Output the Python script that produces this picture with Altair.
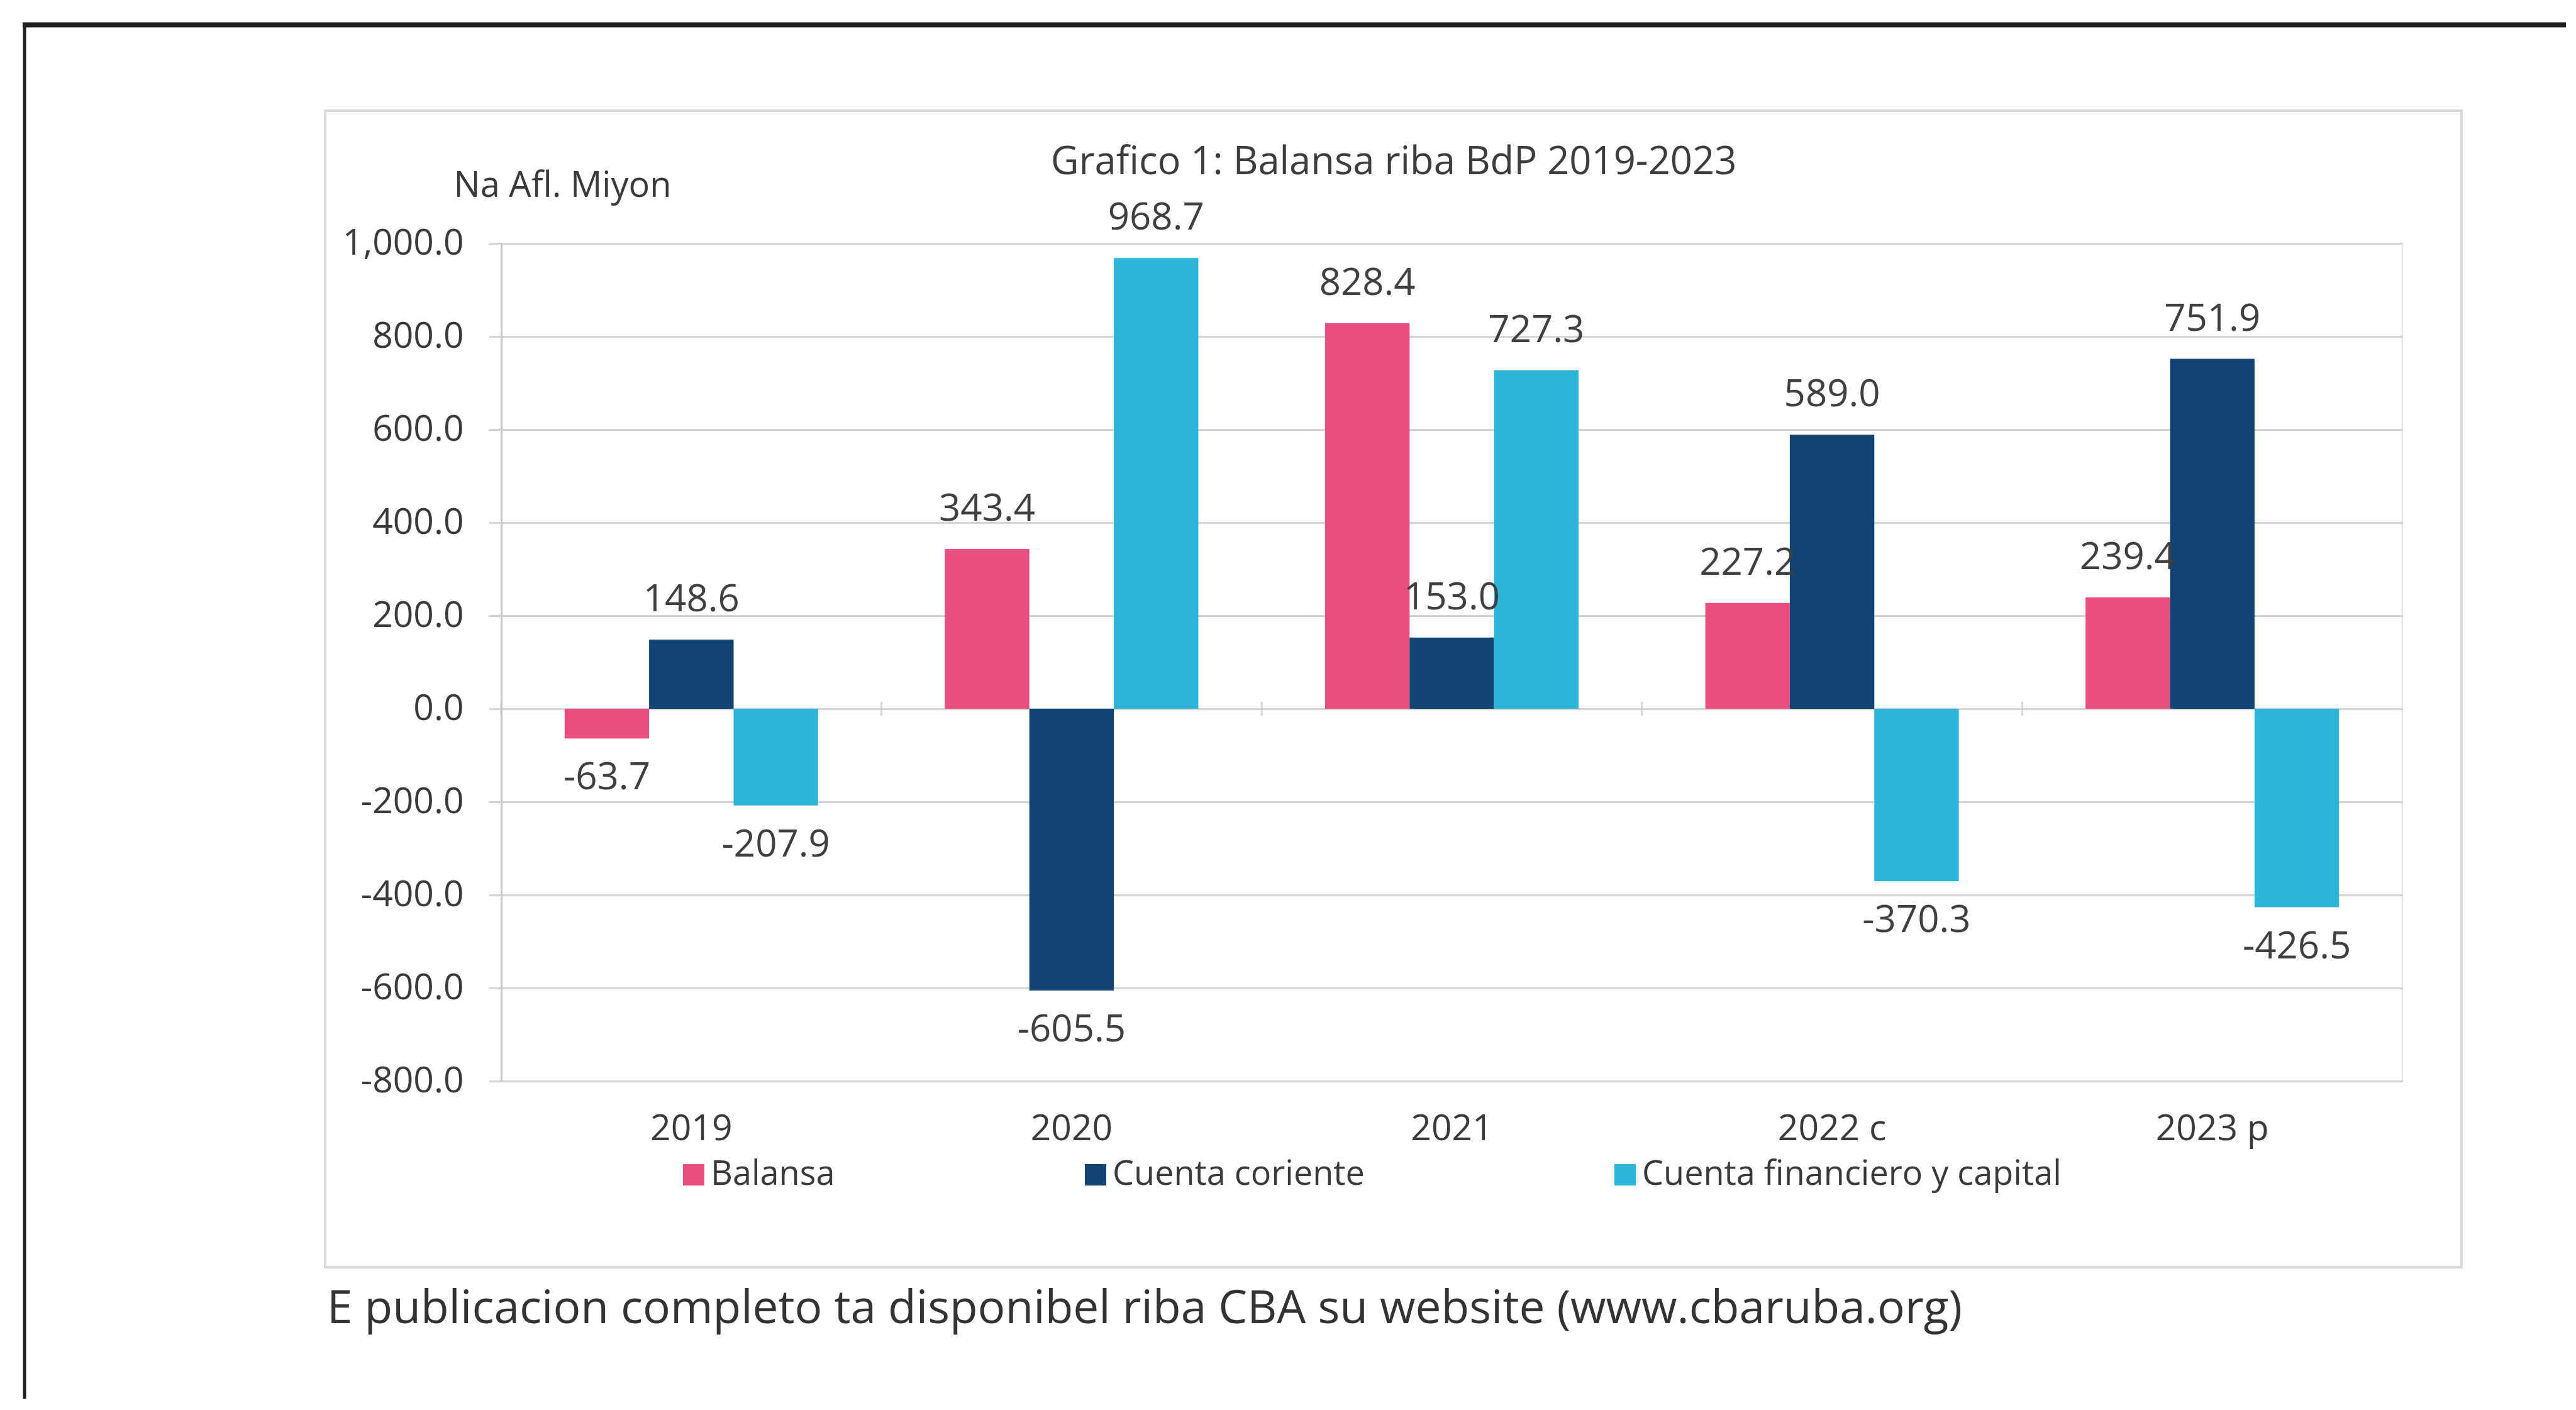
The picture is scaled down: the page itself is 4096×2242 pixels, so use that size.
import altair as alt
import pandas as pd

# ---- data ----
years = ["2019", "2020", "2021", "2022 c", "2023 p"]
series = ["Balansa", "Cuenta coriente", "Cuenta financiero y capital"]
balansa = [-63.7, 343.4, 828.4, 227.2, 239.4]
cuenta_coriente = [148.6, -605.5, 153.0, 589.0, 751.9]
cuenta_fin_cap = [-207.9, 968.7, 727.3, -370.3, -426.5]
y_ticks = [-800, -600, -400, -200, 0, 200, 400, 600, 800, 1000]
colors = ["#EA4F80", "#114373", "#2DB5D7"]

title_text = "Grafico 1: Balansa riba BdP 2019-2023"
unit_text = "Na Afl. Miyon"
footer_text = "E publicacion completo ta disponibel riba CBA su website (www.cbaruba.org)"

rows = []
for s, vals in zip(series, [balansa, cuenta_coriente, cuenta_fin_cap]):
    for yr, v in zip(years, vals):
        rows.append({"year": yr, "series": s, "value": v, "label": f"{v:,.1f}"})
df = pd.DataFrame(rows)
one = pd.DataFrame({"k": [0]})
ticks_df = pd.DataFrame({"year": years})

W, H = 3023, 1332
FONT = "Open Sans"
TXT = "#3a3a3a"
GRID = "#d4d4d4"

x_axis = alt.X(
    "year:N", sort=years,
    scale=alt.Scale(paddingInner=0, paddingOuter=0),
    axis=alt.Axis(title=None, domain=False, ticks=False, tickSize=0, labelPadding=76,
                  labelBaseline="middle", labelFontSize=57, labelColor=TXT, labelAngle=0,
                  labelFont=FONT, labelLimit=1000),
)
x_plain = alt.X("year:N", sort=years)
xoff = alt.XOffset("series:N", sort=series, scale=alt.Scale(paddingInner=0, paddingOuter=0.75))

y_axis = alt.Y(
    "value:Q",
    scale=alt.Scale(domain=[-800, 1000], nice=False, zero=False),
    axis=alt.Axis(
        values=y_ticks,
        labelExpr="replace(format(datum.value, ',.1f'), '\u2212', '-')",
        labelFontSize=57, labelFont=FONT, labelColor=TXT, labelPadding=40, labelLimit=1000,
        grid=True, gridColor=GRID, gridWidth=3,
        ticks=True, tickColor=GRID, tickWidth=3, tickSize=20,
        domain=True, domainColor="#c4c4c4", domainWidth=3,
        title=unit_text, titleAngle=0, titleAlign="left", titleBaseline="middle",
        titleX=-76, titleY=-92, titleFontSize=56, titleFont=FONT,
        titleFontWeight="normal", titleColor=TXT, titleLimit=2000,
    ),
)

color = alt.Color(
    "series:N",
    scale=alt.Scale(domain=series, range=colors),
    legend=alt.Legend(
        orient="none", legendX=279, legendY=1454, direction="horizontal", columns=3,
        title=None, symbolType="square", symbolSize=1156, symbolStrokeWidth=0,
        labelFontSize=54, labelFont=FONT, labelColor=TXT, labelOffset=0, labelLimit=2000,
        columnPadding=387, padding=0,
    ),
)

box = alt.Chart(one).mark_rect(fill="#ffffff", fillOpacity=0, stroke="#d9d9d9", strokeWidth=4).encode(
    x=alt.value(-280), x2=alt.value(3117), y=alt.value(-211), y2=alt.value(1628)
)
frame_top = alt.Chart(one).mark_rule(color="#1e1e1e", strokeWidth=8).encode(
    x=alt.value(-761), x2=alt.value(3300), y=alt.value(-347.5)
)
frame_left = alt.Chart(one).mark_rule(color="#1e1e1e", strokeWidth=5).encode(
    x=alt.value(-758), y=alt.value(-350), y2=alt.value(1850)
)

bars = alt.Chart(df).mark_bar().encode(x=x_axis, xOffset=xoff, y=y_axis, color=color)

zero_ticks = alt.Chart(ticks_df).mark_tick(orient="vertical", size=22, thickness=3, color="#c4c4c4").encode(
    x=alt.X("year:N", sort=years, bandPosition=0), y=alt.datum(0)
)

lab_style = dict(fontSize=60, font=FONT, color="#404040", baseline="middle", align="center")
text_pos = alt.Chart(df).transform_filter("datum.value >= 0").mark_text(dy=-63, **lab_style).encode(
    x=x_plain, xOffset=xoff, y=alt.Y("value:Q"), text="label:N"
)
text_neg = alt.Chart(df).transform_filter("datum.value < 0").mark_text(dy=63, **lab_style).encode(
    x=x_plain, xOffset=xoff, y=alt.Y("value:Q"), text="label:N"
)

title_mark = alt.Chart(one).mark_text(fontSize=61.5, font=FONT, color="#3d3d3d", align="center",
                                      baseline="middle").encode(
    x=alt.value(1419), y=alt.value(-128), text=alt.value(title_text)
)
footer_mark = alt.Chart(one).mark_text(fontSize=73, font=FONT, color="#333333", align="left",
                                       baseline="middle").encode(
    x=alt.value(-277), y=alt.value(1695), text=alt.value(footer_text)
)

chart = alt.layer(
    box, frame_top, frame_left, bars, zero_ticks, text_pos, text_neg, title_mark, footer_mark
).properties(
    width=W, height=H,
    autosize=alt.AutoSizeParams(type="none"),
    padding={"left": 789, "top": 379, "right": 260, "bottom": 505},
).configure_view(strokeWidth=0).configure(background="white")

chart.save("out.html", embed_options={"renderer": "svg", "actions": False})
